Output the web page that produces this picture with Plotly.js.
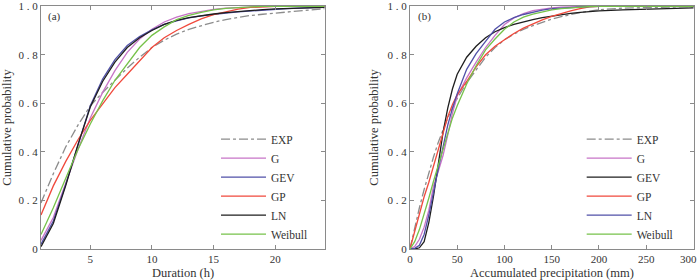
<!DOCTYPE html>
<html>
<head>
<meta charset="utf-8">
<script src="https://cdn.plot.ly/plotly-3.0.1.min.js"></script>
<style>html,body{margin:0;padding:0;background:#fff}#chart{width:700px;height:280px}</style>
</head>
<body>
<div id="chart"></div>
<script>
// ---- Data ----
const seriesNames = ['EXP', 'G', 'GEV', 'GP', 'LN', 'Weibull'];

// Panel (a): duration (h)
const durationX = [1,2,3,4,5,6,7,8,9,10,11,12,13,14,15,16,17,18,19,20,21,22,23,24];
const durEXP     = [0.19,0.31,0.42,0.51,0.59,0.645,0.695,0.745,0.79,0.83,0.86,0.885,0.905,0.92,0.934,0.945,0.955,0.962,0.967,0.972,0.977,0.982,0.986,0.99];
const durG       = [0.035,0.13,0.27,0.41,0.54,0.645,0.735,0.81,0.865,0.905,0.935,0.955,0.97,0.98,0.987,0.992,0.995,0.997,0.999,1,1,1,1,1];
const durGEV     = [0.02,0.115,0.265,0.43,0.59,0.70,0.78,0.838,0.875,0.903,0.925,0.94,0.952,0.96,0.967,0.972,0.977,0.981,0.984,0.987,0.99,0.992,0.994,0.996];
const durGP      = [0.14,0.26,0.36,0.45,0.53,0.60,0.665,0.72,0.775,0.83,0.87,0.90,0.925,0.948,0.965,0.978,0.988,0.995,0.999,1,1,1,1,1];
const durLN      = [0.01,0.105,0.26,0.43,0.585,0.69,0.77,0.83,0.87,0.90,0.925,0.942,0.953,0.962,0.968,0.974,0.979,0.983,0.986,0.989,0.991,0.993,0.994,0.995];
const durWeibull = [0.06,0.17,0.29,0.41,0.515,0.61,0.695,0.765,0.83,0.88,0.915,0.945,0.962,0.975,0.985,0.991,0.995,0.998,1,1,1,1,1,1];

// Panel (b): accumulated precipitation (mm)
const precipX = [0,5,10,15,20,25,30,35,40,45,50,60,70,80,90,100,110,120,130,140,150,160,170,180,190,200,225,250,275,300];
const preEXP     = [0,0.09,0.17,0.245,0.315,0.38,0.44,0.49,0.54,0.58,0.62,0.685,0.74,0.79,0.83,0.862,0.885,0.905,0.92,0.935,0.947,0.957,0.966,0.974,0.98,0.986,0.992,0.995,0.998,0.999];
const preG       = [0,0.01,0.04,0.09,0.16,0.26,0.32,0.385,0.47,0.56,0.63,0.705,0.77,0.83,0.88,0.925,0.952,0.97,0.982,0.989,0.993,0.996,0.998,0.999,1,1,1,1,1,1];
const preGEV     = [0,0.0,0.005,0.03,0.11,0.22,0.35,0.48,0.58,0.66,0.72,0.79,0.835,0.87,0.895,0.912,0.925,0.936,0.945,0.953,0.96,0.966,0.971,0.975,0.978,0.981,0.985,0.988,0.992,0.993];
const preGP      = [0,0.07,0.148,0.215,0.275,0.34,0.41,0.48,0.545,0.595,0.635,0.69,0.75,0.80,0.835,0.862,0.888,0.91,0.928,0.944,0.958,0.97,0.981,0.99,0.997,1,1,1,1,1];
const preLN      = [0,0.003,0.015,0.06,0.14,0.24,0.33,0.42,0.51,0.58,0.64,0.74,0.805,0.855,0.905,0.935,0.953,0.966,0.976,0.984,0.99,0.993,0.995,0.997,0.999,1,1,1,1,1];
const preWeibull = [0,0.03,0.08,0.14,0.21,0.28,0.345,0.41,0.47,0.54,0.59,0.68,0.755,0.82,0.865,0.905,0.935,0.955,0.968,0.978,0.985,0.99,0.994,0.997,0.999,1,1,1,1,1];

const xTickValsA = [5,10,15,20];
const xTickValsB = [0,50,100,150,200,250,300];
const xTickTextB = ['0','50','100','150','200','250',''];   // last label drawn as an annotation so it stays inside the page
const xLastTickB = 300;
const yTickVals = [0,0.2,0.4,0.6,0.8,1.0];
const yTickText = ['0','0 . 2','0 . 4','0 . 6','0 . 8','1 . 0'];

// ---- Styles ----
const SERIF = 'Liberation Serif, Times New Roman, serif';
const styleA = {
  EXP:{color:'#8c8c8c', dash:'dashdot'}, G:{color:'#c774c7', dash:'solid'},
  GEV:{color:'#5050a8', dash:'solid'}, GP:{color:'#f0493c', dash:'solid'},
  LN:{color:'#1e1e1e', dash:'solid'}, Weibull:{color:'#76c24a', dash:'solid'}
};
const styleB = {
  EXP:{color:'#8c8c8c', dash:'dashdot'}, G:{color:'#c774c7', dash:'solid'},
  GEV:{color:'#1e1e1e', dash:'solid'}, GP:{color:'#f0493c', dash:'solid'},
  LN:{color:'#5050a8', dash:'solid'}, Weibull:{color:'#76c24a', dash:'solid'}
};

const dataA = [durEXP, durG, durGEV, durGP, durLN, durWeibull];
const dataB = [preEXP, preG, preGEV, preGP, preLN, preWeibull];

const traces = [];
seriesNames.forEach((n, i) => {
  traces.push({x: durationX, y: dataA[i], name: n, type: 'scatter', mode: 'lines',
    xaxis: 'x', yaxis: 'y', legend: 'legend',
    line: {color: styleA[n].color, dash: styleA[n].dash, width: 1.3}});
});
seriesNames.forEach((n, i) => {
  traces.push({x: precipX, y: dataB[i], name: n, type: 'scatter', mode: 'lines',
    xaxis: 'x2', yaxis: 'y2', legend: 'legend2',
    line: {color: styleB[n].color, dash: styleB[n].dash, width: 1.3}});
});

const tickFont = {family: SERIF, size: 11, color: '#333'};
const axisCommon = {
  showline: true, linecolor: '#8a8a8a', linewidth: 1, mirror: 'ticks',
  ticks: 'inside', ticklen: 4, tickcolor: '#8a8a8a', showgrid: false, zeroline: false,
  tickfont: tickFont, fixedrange: true
};
const titleFont = {family: SERIF, size: 12.5, color: '#333'};
const legendCommon = {
  font: {family: SERIF, size: 11.5, color: '#333'}, bgcolor: 'rgba(0,0,0,0)',
  xanchor: 'left', yanchor: 'top', itemwidth: 45, tracegroupgap: 0
};

const layout = {
  width: 700, height: 280,
  margin: {l: 41, r: 6, t: 6, b: 31},
  paper_bgcolor: '#fff', plot_bgcolor: '#fff',
  xaxis: Object.assign({}, axisCommon, {domain: [0, 0.435], range: [1, 24.05], tickvals: xTickValsA,
    title: {text: 'Duration (h)', font: titleFont, standoff: 4}}),
  yaxis: Object.assign({}, axisCommon, {domain: [0, 1], range: [0, 1.001], tickvals: yTickVals, ticktext: yTickText,
    title: {text: 'Cumulative probability', font: titleFont, standoff: 6}}),
  xaxis2: Object.assign({}, axisCommon, {domain: [0.565, 1], range: [0, 300.5], tickvals: xTickValsB, ticktext: xTickTextB,
    anchor: 'y2', title: {text: 'Accumulated precipitation (mm)', font: titleFont, standoff: 4}}),
  yaxis2: Object.assign({}, axisCommon, {domain: [0, 1], range: [0, 1.001], tickvals: yTickVals, ticktext: yTickText,
    anchor: 'x2', title: {text: 'Cumulative probability', font: titleFont, standoff: 6}}),
  legend: Object.assign({}, legendCommon, {x: 0.268, y: 0.512}),
  legend2: Object.assign({}, legendCommon, {x: 0.828, y: 0.512}),
  showlegend: true,
  annotations: [
    {text: '(a)', xref: 'paper', yref: 'paper', x: 0.007, y: 0.955, xanchor: 'left', yanchor: 'middle',
     showarrow: false, font: {family: SERIF, size: 11, color: '#333'}},
    {text: '(b)', xref: 'paper', yref: 'paper', x: 0.575, y: 0.955, xanchor: 'left', yanchor: 'middle',
     showarrow: false, font: {family: SERIF, size: 11, color: '#333'}},
    {text: String(xLastTickB), xref: 'x2', yref: 'paper', x: xLastTickB, y: 0, xanchor: 'right', yanchor: 'middle',
     xshift: 5, yshift: -10, showarrow: false, font: tickFont}
  ]
};

Plotly.newPlot('chart', traces, layout, {staticPlot: true, displayModeBar: false});
</script>
</body>
</html>
